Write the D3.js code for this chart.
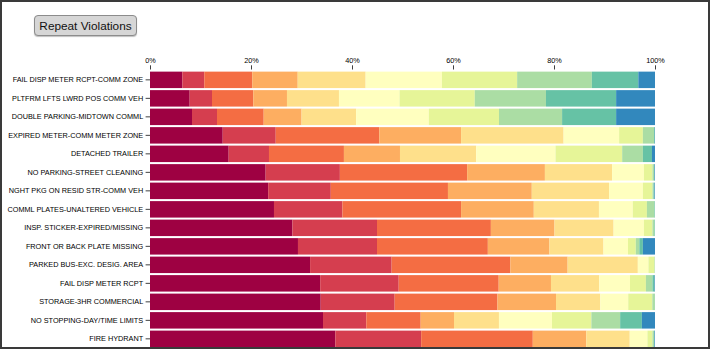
<!DOCTYPE html>
<html>
<head>
<meta charset="utf-8">
<script src="https://cdn.jsdelivr.net/npm/d3@7"></script>
<style>
    body { margin: 0; font-family: "Liberation Sans", Arial, sans-serif; }
    #frame {
        position: relative;
        width: 710px; height: 349px;
        box-sizing: border-box;
        border: 2px solid #3a3a3a;
        overflow: hidden;
        background: #fff;
    }
    #toggle {
        position: absolute; left: 32px; top: 13px;
        width: 103px; height: 21px;
        padding: 0;
        font: 11.8px "Liberation Sans", Arial, sans-serif;
        color: #111;
        background: #d6d6d6;
        border: 1px solid #8c8c8c;
        border-radius: 4px;
        box-shadow: 0 1px 1px rgba(0,0,0,0.25);
    }
    svg { position: absolute; left: -2px; top: -2px; }
    .axis text { font-size: 7.3px; font-family: "Liberation Sans", Arial, sans-serif; fill: #000; }
    .axis line { stroke: #000; stroke-width: 0.75px; }
</style>
</head>
<body>
<div id="frame">
    <button id="toggle">Repeat Violations</button>
</div>
<script>
// нарушения (в порядке сверху вниз)
var categories = [
    "FAIL DISP METER RCPT-COMM ZONE",
    "PLTFRM LFTS LWRD POS COMM VEH",
    "DOUBLE PARKING-MIDTOWN COMML",
    "EXPIRED METER-COMM METER ZONE",
    "DETACHED TRAILER",
    "NO PARKING-STREET CLEANING",
    "NGHT PKG ON RESID STR-COMM VEH",
    "COMML PLATES-UNALTERED VEHICLE",
    "INSP. STICKER-EXPIRED/MISSING",
    "FRONT OR BACK PLATE MISSING",
    "PARKED BUS-EXC. DESIG. AREA",
    "FAIL DISP METER RCPT",
    "STORAGE-3HR COMMERCIAL",
    "NO STOPPING-DAY/TIME LIMITS",
    "FIRE HYDRANT"
];

// число повторов (группы стека)
var repeatKeys = ["1", "2", "3", "4", "5", "6", "7", "8", "9", "10+"];

// доли, % (по строке на нарушение)
var shares = [
    [ 6.4,  4.35,  9.5,   9.0,  13.45, 15.1,  14.9,  14.8,  9.2,  3.3 ],
    [ 7.86, 4.42,  8.18,  6.67, 10.3,  12.0,  14.9,  14.1, 13.9,  7.7 ],
    [ 8.32, 4.95,  9.25,  7.5,  10.8,  14.4,  13.9,  12.5, 10.7,  7.7 ],
    [14.4, 10.5,  20.5,  16.2,  20.3,  11.0,   4.7,   2.2,  0.15, 0.05],
    [15.58, 7.98, 14.84, 11.1,  15.1,  15.7,  13.2,   4.1,  1.8,  0.6 ],
    [22.9, 14.7,  25.2,  15.4,  13.3,   6.3,   1.7,   0.3,  0.1,  0.1 ],
    [23.4, 12.4,  23.2,  16.6,  15.3,   6.7,   1.9,   0.2,  0.2,  0.1 ],
    [24.55, 13.55, 23.5, 14.4,  12.9,   6.7,   2.8,   1.5,  0.1,  0.0 ],
    [28.2, 16.75, 22.55, 12.6,  11.7,   6.0,   1.7,   0.4,  0.1,  0.0 ],
    [29.3, 15.65, 21.95, 12.2,  10.7,   4.85,  1.55,  0.7,  0.7,  2.4 ],
    [31.7, 16.15, 23.5,  11.35, 13.9,   2.1,   1.2,   0.1,  0.0,  0.0 ],
    [33.7, 15.55, 19.8,  10.35,  9.57,  6.08,  3.15,  1.3,  0.4,  0.1 ],
    [33.8, 14.65, 20.35, 11.6,   8.77,  5.53,  4.77,  0.5,  0.03, 0.0 ],
    [34.26, 8.57, 10.77,  6.6,   8.9,  10.5,   7.8,   5.7,  4.3,  2.6 ],
    [36.7, 17.0,  22.1,  10.6,   8.6,   3.5,   1.0,   0.3,  0.1,  0.1 ]
];

var xTicks = [0, 0.2, 0.4, 0.6, 0.8, 1];

var margin = {top: 69.5, left: 150},
    width = 505,
    height = 279;

var rows = categories.map(function(c, i) {
    var row = {violation: c};
    repeatKeys.forEach(function(k, j) { row[k] = shares[i][j]; });
    return row;
});

var series = d3.stack()
    .keys(repeatKeys)
    .offset(d3.stackOffsetExpand)(rows);

var x = d3.scaleLinear().domain([0, 1]).range([0, width]);
var y = d3.scaleBand()
    .domain(categories)
    .range([1.2, height - 0.5])
    .paddingInner(0.11)
    .paddingOuter(0.05);

var color = d3.scaleOrdinal()
    .domain(repeatKeys)
    .range(d3.schemeSpectral[11].slice(0, repeatKeys.length));

var svg = d3.select("#frame").append("svg")
    .attr("width", 712)
    .attr("height", 351);

var g = svg.append("g")
    .attr("transform", "translate(" + margin.left + "," + margin.top + ")");

g.selectAll(".layer")
    .data(series)
    .enter().append("g")
        .attr("class", "layer")
        .attr("fill", function(d) { return color(d.key); })
    .selectAll("rect")
    .data(function(d) { return d; })
    .enter().append("rect")
        .attr("x", function(d) { return x(d[0]); })
        .attr("y", function(d) { return y(d.data.violation); })
        .attr("width", function(d) { return x(d[1]) - x(d[0]); })
        .attr("height", y.bandwidth());

g.append("g")
    .attr("class", "axis")
    .call(d3.axisTop(x).tickValues(xTicks).tickFormat(d3.format(".0%")).tickSize(4.2).tickPadding(2.2))
    .call(function(a) { a.select(".domain").remove(); });

g.append("g")
    .attr("class", "axis")
    .call(d3.axisLeft(y).tickSize(4.4).tickPadding(2.4))
    .call(function(a) { a.select(".domain").remove(); });
</script>
</body>
</html>
